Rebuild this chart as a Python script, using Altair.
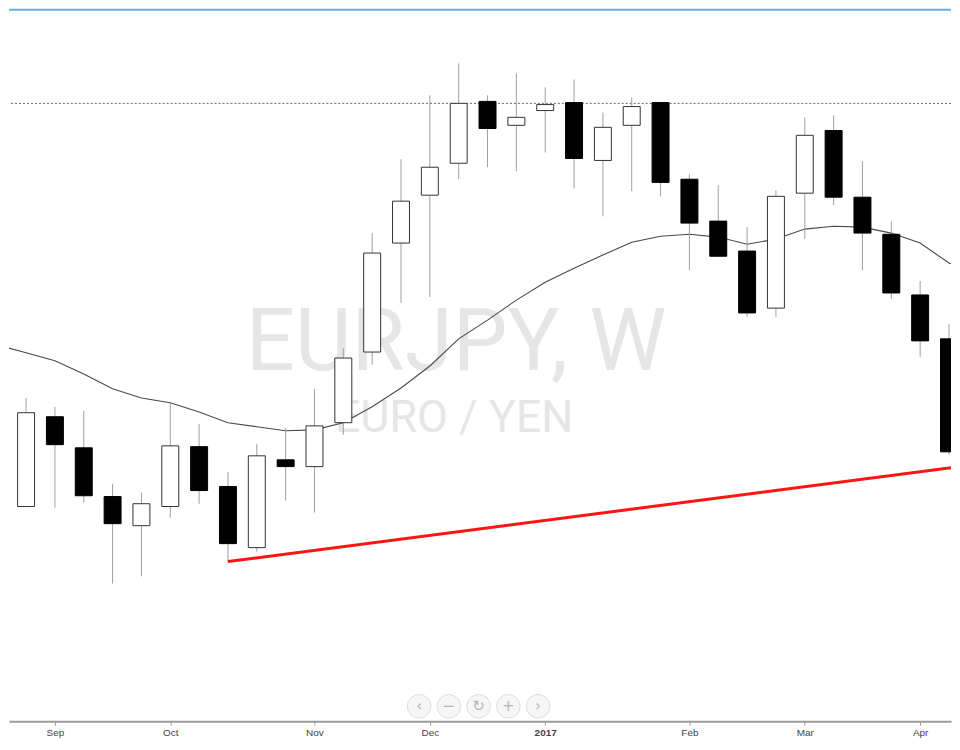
import json
import altair as alt
import pandas as pd

# ---- data ----
week = list(range(-2, 32))
opens = [113.15, 113.33, 115.58, 114.80, 113.58, 112.85, 113.33, 114.83, 113.83, 112.30,
         114.50, 114.33, 115.43, 117.20, 119.93, 121.13, 121.93, 123.48, 122.88, 123.25,
         123.45, 122.00, 122.88, 123.45, 121.53, 120.48, 119.73, 118.30, 121.18, 122.75,
         121.08, 120.15, 118.63, 117.53]
highs = [113.70, 116.05, 115.83, 115.73, 113.90, 113.68, 115.93, 115.40, 114.20, 114.90,
         115.30, 116.28, 117.30, 120.18, 122.03, 123.63, 124.43, 123.63, 124.18, 123.83,
         124.03, 123.20, 123.58, 123.45, 121.65, 121.38, 120.33, 121.25, 123.08, 123.13,
         121.98, 120.48, 118.98, 117.90]
lows = [113.00, 113.33, 113.30, 113.43, 111.40, 111.58, 113.05, 113.40, 111.93, 112.20,
        113.48, 113.18, 115.13, 116.88, 118.43, 118.58, 121.53, 121.83, 121.73, 122.20,
        121.30, 120.60, 121.23, 121.10, 119.25, 119.60, 118.08, 118.08, 120.03, 120.88,
        119.25, 118.53, 117.08, 114.63]
closes = [113.50, 115.68, 114.88, 113.60, 112.90, 113.40, 114.85, 113.73, 112.40, 114.60,
          114.33, 115.35, 117.05, 119.68, 120.98, 121.83, 123.43, 122.80, 123.08, 123.40,
          122.05, 122.83, 123.35, 121.45, 120.43, 119.60, 118.18, 121.10, 122.63, 121.08,
          120.18, 118.68, 117.48, 114.70]

ma_week = list(range(-2, 33))
ma_values = [117.38, 117.18, 116.98, 116.65, 116.28, 116.05, 115.93, 115.70, 115.43, 115.33,
             115.23, 115.25, 115.43, 115.83, 116.30, 116.85, 117.53, 118.00, 118.50, 118.95,
             119.30, 119.63, 119.95, 120.10, 120.15, 120.08, 119.90, 120.03, 120.28, 120.35,
             120.33, 120.18, 119.93, 119.43, 119.18]

resistance = [123.43]
trend_week = [6, 32]
trend_price = [111.95, 114.39]

tick_weeks = [0, 4, 9, 13, 17, 22, 26, 30]
tick_labels = ["Sep", "Oct", "Nov", "Dec", "2017", "Feb", "Mar", "Apr"]
year_tick = 17

title_main = "EURJPY, W"
title_sub = "EURO / YEN"
nav_glyphs = ["‹", "−", "↻", "+", "›"]

# ---- tables ----
candles = pd.DataFrame({"week": week, "open": opens, "high": highs, "low": lows, "close": closes})
candles["dir"] = ["up" if c >= o else "down" for o, c in zip(opens, closes)]
ma_df = pd.DataFrame({"week": ma_week, "ma": ma_values})
res_df = pd.DataFrame({"price": resistance})
trend_df = pd.DataFrame({"week": trend_week, "price": trend_price})

W, H = 944, 714

label_expr = f"{json.dumps(tick_labels)}[indexof({json.dumps(tick_weeks)}, datum.value)]"
x_axis = alt.Axis(
    values=tick_weeks, labelExpr=label_expr, title=None, grid=False,
    domainColor="#9a9a9a", domainWidth=2, tickColor="#9a9a9a", tickSize=4, tickWidth=1,
    labelFont="Liberation Sans", labelFontSize=10, labelColor="#444444", labelPadding=2,
    labelFontWeight={"condition": {"test": f"datum.value == {year_tick}", "value": "bold"}, "value": "normal"},
)
x_scale = alt.Scale(domain=[-1.592, 31.07], nice=False, zero=False, padding=0)
y_scale = alt.Scale(domain=[107.95, 125.8], nice=False, zero=False)


def X(field="week"):
    return alt.X(f"{field}:Q", scale=x_scale, axis=x_axis)


one = pd.DataFrame({"k": [0]})

top_line = alt.Chart(one).mark_rule(color="#6aaedb", strokeWidth=2).encode(
    x=alt.value(0), x2=alt.value(W), y=alt.value(1))

wm1 = alt.Chart(pd.DataFrame({"t": [title_main]})).mark_text(
    font="Roboto", fontSize=87, fontWeight="normal", color="#e6e6e6", align="center", baseline="alphabetic"
).encode(text="t:N", x=alt.value(448), y=alt.value(362))
wm2 = alt.Chart(pd.DataFrame({"t": [title_sub]})).mark_text(
    font="Roboto", fontSize=45, fontWeight="normal", color="#e6e6e6", align="center", baseline="alphabetic"
).encode(text="t:N", x=alt.value(446), y=alt.value(424))

res_rule = alt.Chart(res_df).mark_rule(color="#666666", strokeDash=[2, 2], strokeWidth=1).encode(
    y=alt.Y("price:Q", scale=y_scale, axis=None))

ma_line = alt.Chart(ma_df).mark_line(color="#4a4a4a", strokeWidth=1.1, clip=True).encode(
    x=X(), y=alt.Y("ma:Q", scale=y_scale, axis=None))

wicks = alt.Chart(candles).mark_rule(color="#a0a0a0", strokeWidth=1, clip=True).encode(
    x=X(), y=alt.Y("low:Q", scale=y_scale, axis=None), y2="high:Q")

bodies = alt.Chart(candles).mark_bar(size=17, strokeWidth=1, clip=True).encode(
    x=X(), y=alt.Y("open:Q", scale=y_scale, axis=None), y2="close:Q",
    fill=alt.Fill("dir:N", scale=alt.Scale(domain=["up", "down"], range=["#ffffff", "#000000"]), legend=None),
    stroke=alt.Stroke("dir:N", scale=alt.Scale(domain=["up", "down"], range=["#333333", "#000000"]), legend=None),
)

trend = alt.Chart(trend_df).mark_line(color="#ff1414", strokeWidth=3, clip=True).encode(
    x=X(), y=alt.Y("price:Q", scale=y_scale, axis=None))

nav_layers = []
for k, g in enumerate(nav_glyphs):
    cx = 411 + 29.8 * k
    nav_layers.append(alt.Chart(one).mark_point(
        shape="circle", filled=True, fill="#f6f6f6", stroke="#dcdcdc", strokeWidth=1, size=560, opacity=1
    ).encode(x=alt.value(cx), y=alt.value(699)))
    nav_layers.append(alt.Chart(one).mark_text(
        text=g, font="DejaVu Sans", fontSize=15, color="#b5b5b5", align="center", baseline="middle"
    ).encode(x=alt.value(cx), y=alt.value(699)))

chart = alt.layer(
    top_line, wm1, wm2, res_rule, ma_line, wicks, bodies, trend, *nav_layers
).properties(width=W, height=H, padding=0, background="white").configure_view(strokeWidth=0)

chart.save("out.html", embed_options={"renderer": "svg", "actions": False})
